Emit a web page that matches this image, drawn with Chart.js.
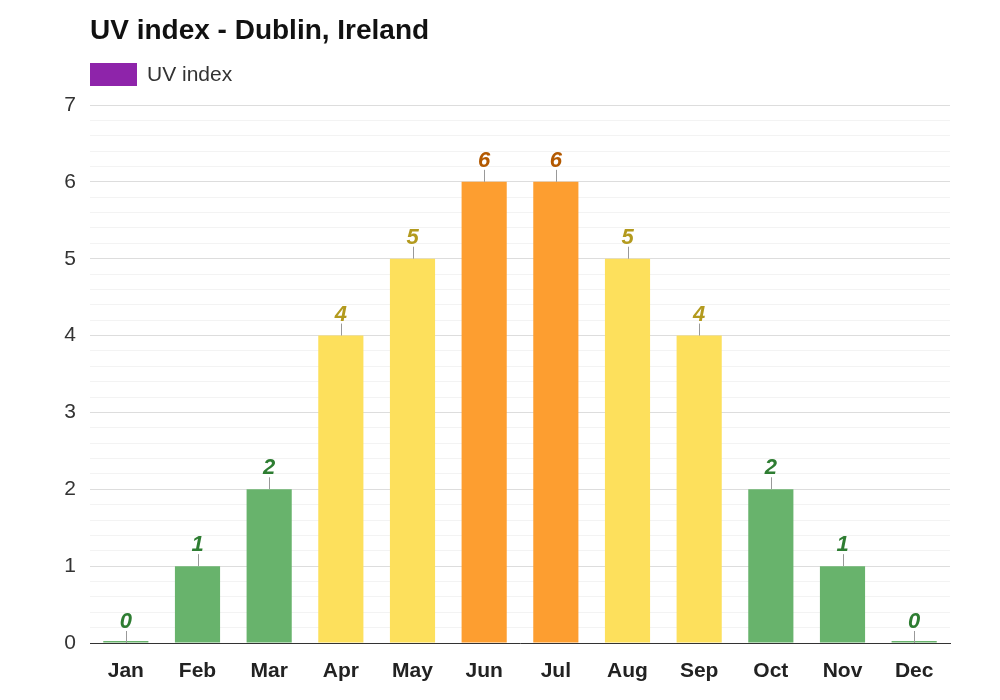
<!DOCTYPE html>
<html>
<head>
<meta charset="utf-8">
<script src="https://cdn.jsdelivr.net/npm/chart.js@4/dist/chart.umd.min.js"></script>
<style>
  body { margin: 0; background: #fff; font-family: Arial, "Liberation Sans", sans-serif; }
  #wrap { position: relative; width: 1000px; height: 700px; }
  #title { position: absolute; left: 90px; top: 14px; font-size: 28px; font-weight: bold; color: #111; }
  #legend { position: absolute; left: 90px; top: 62px; font-size: 21px; color: #333; display: flex; align-items: center; }
  #legend span.box { display: inline-block; width: 47px; height: 23px; background: #8e24aa; margin-right: 10px; }
</style>
</head>
<body>
<div id="wrap">
  <div id="title">UV index - Dublin, Ireland</div>
  <div id="legend"><span class="box"></span>UV index</div>
  <canvas id="uvchart" width="1000" height="700"></canvas>
</div>
<script>
const months = ["Jan", "Feb", "Mar", "Apr", "May", "Jun", "Jul", "Aug", "Sep", "Oct", "Nov", "Dec"];
const uvValues = [0, 1, 2, 4, 5, 6, 6, 5, 4, 2, 1, 0];

function barColor(v) {
    if (v >= 6) return "#fd9e30";
    if (v >= 3) return "#fde05c";
    return "#68b36c";
}
function labelColor(v) {
    if (v >= 6) return "#b35900";
    if (v >= 3) return "#b39a1e";
    return "#2e7d32";
}

const valueLabels = {
    id: "valueLabels",
    afterDatasetsDraw(chart) {
        const ctx = chart.ctx;
        const meta = chart.getDatasetMeta(0);
        ctx.save();
        meta.data.forEach(function (bar, i) {
            const v = uvValues[i];
            const top = chart.scales.y.getPixelForValue(v);
            ctx.strokeStyle = "#999";
            ctx.lineWidth = 1;
            ctx.beginPath();
            ctx.moveTo(Math.round(bar.x) + 0.5, top);
            ctx.lineTo(Math.round(bar.x) + 0.5, top - 12);
            ctx.stroke();
            ctx.fillStyle = labelColor(v);
            ctx.font = "italic bold 22px Arial, 'Liberation Sans', sans-serif";
            ctx.textAlign = "center";
            ctx.textBaseline = "alphabetic";
            ctx.fillText(String(v), bar.x, top - 15);
        });
        ctx.restore();
    }
};

new Chart(document.getElementById("uvchart"), {
    type: "bar",
    data: {
        labels: months,
        datasets: [{
            label: "UV index",
            data: uvValues,
            backgroundColor: uvValues.map(barColor),
            borderColor: uvValues.map(barColor),
            borderWidth: 0,
            minBarLength: 2,
            categoryPercentage: 0.63,
            barPercentage: 1
        }]
    },
    options: {
        responsive: false,
        animation: false,
        layout: { padding: { top: 105, right: 50, left: 0, bottom: 0 } },
        plugins: { legend: { display: false }, title: { display: false }, tooltip: { enabled: false } },
        scales: {
            x: {
                grid: { display: false },
                border: { color: "#333" },
                ticks: { color: "#222", font: { size: 21, weight: "bold" }, padding: 8 },
                afterFit: function (s) { s.height = 57; }
            },
            y: {
                min: 0,
                max: 7,
                ticks: {
                    stepSize: 0.2,
                    autoSkip: false,
                    color: "#333",
                    font: { size: 21 },
                    padding: 14,
                    callback: function (v) {
                        return Math.abs(v - Math.round(v)) < 1e-6 ? String(Math.round(v)) : "";
                    }
                },
                grid: {
                    drawTicks: false,
                    color: function (c) {
                        const v = c.tick.value;
                        return Math.abs(v - Math.round(v)) < 1e-6 ? "#dddddd" : "#f3f3f3";
                    }
                },
                border: { display: false },
                afterFit: function (s) { s.width = 90; }
            }
        }
    },
    plugins: [valueLabels]
});
</script>
</body>
</html>
